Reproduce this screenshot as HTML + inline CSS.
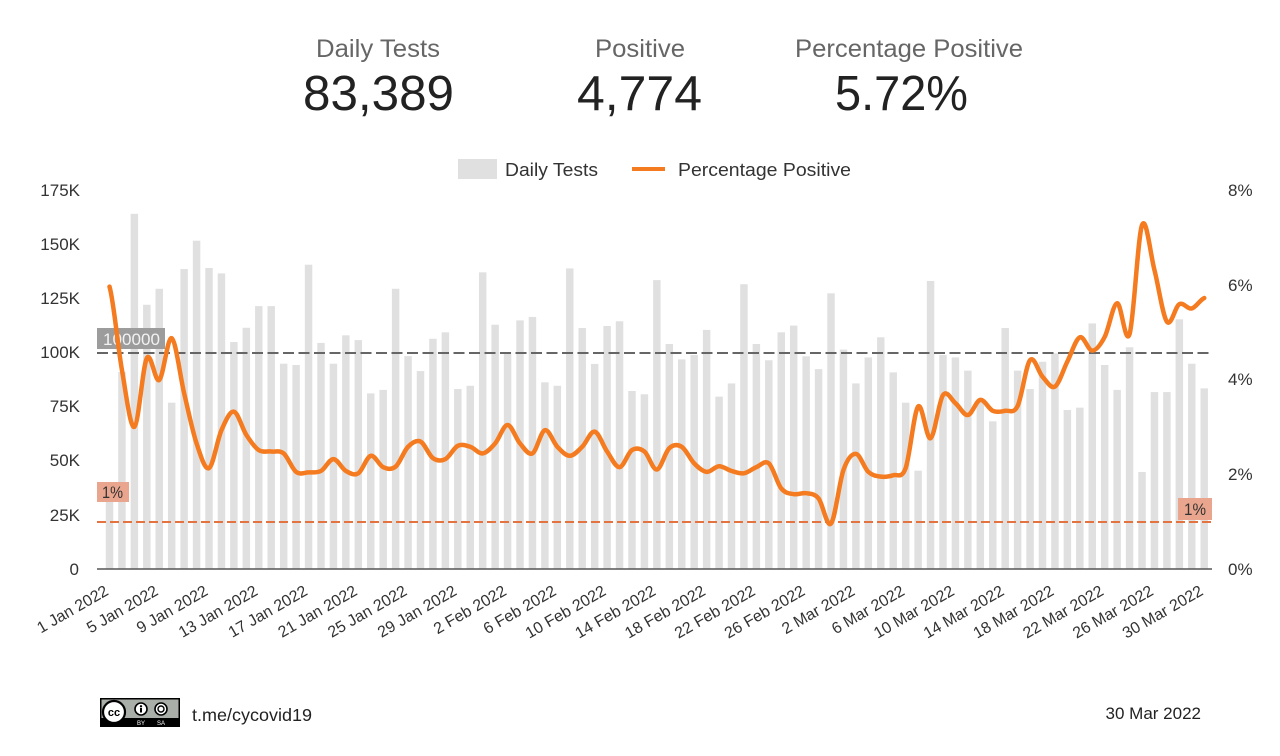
<!DOCTYPE html>
<html>
<head>
<meta charset="utf-8">
<style>
html,body{margin:0;padding:0;background:#fff;}
svg{display:block;font-family:"Liberation Sans",Arial,sans-serif;}
</style>
</head>
<body>
<svg width="1280" height="756" viewBox="0 0 1280 756" xmlns="http://www.w3.org/2000/svg">
<rect width="1280" height="756" fill="#fff"/>

<!-- Header scorecards -->
<g fill="#666" font-size="25">
<text x="316" y="57" textLength="124" lengthAdjust="spacingAndGlyphs">Daily Tests</text>
<text x="595" y="57" textLength="90" lengthAdjust="spacingAndGlyphs">Positive</text>
<text x="795" y="57" textLength="228" lengthAdjust="spacingAndGlyphs">Percentage Positive</text>
</g>
<g fill="#222" font-size="49">
<text x="303" y="110" textLength="151" lengthAdjust="spacingAndGlyphs">83,389</text>
<text x="577" y="110" textLength="125" lengthAdjust="spacingAndGlyphs">4,774</text>
<text x="835" y="110" textLength="133" lengthAdjust="spacingAndGlyphs">5.72%</text>
</g>

<!-- Legend -->
<rect x="458" y="159" width="39" height="20" fill="#e0e0e0"/>
<text x="505" y="176" font-size="18.5" fill="#333" textLength="93" lengthAdjust="spacingAndGlyphs">Daily Tests</text>
<line x1="632" y1="169" x2="665" y2="169" stroke="#f47b20" stroke-width="4"/>
<text x="678" y="176" font-size="18.5" fill="#333" textLength="173" lengthAdjust="spacingAndGlyphs">Percentage Positive</text>

<!-- Left axis labels -->
<g fill="#333" font-size="17" text-anchor="end">
<text x="80" y="196">175K</text>
<text x="80" y="250">150K</text>
<text x="80" y="304">125K</text>
<text x="80" y="358">100K</text>
<text x="80" y="412">75K</text>
<text x="80" y="466">50K</text>
<text x="80" y="521">25K</text>
<text x="79" y="575">0</text>
</g>
<!-- Right axis labels -->
<g fill="#333" font-size="17">
<text x="1228" y="196">8%</text>
<text x="1228" y="291">6%</text>
<text x="1228" y="385">4%</text>
<text x="1228" y="480">2%</text>
<text x="1228" y="575">0%</text>
</g>

<!-- Bars -->
<g transform="translate(109.5,569) scale(12.44,-2.1656)" fill="#e0e0e0">
<rect x="-0.3" width="0.6" height="35"/>
<rect x="0.7" width="0.6" height="91"/>
<rect x="1.7" width="0.6" height="164"/>
<rect x="2.7" width="0.6" height="122"/>
<rect x="3.7" width="0.6" height="129.4"/>
<rect x="4.7" width="0.6" height="76.8"/>
<rect x="5.7" width="0.6" height="138.5"/>
<rect x="6.7" width="0.6" height="151.6"/>
<rect x="7.7" width="0.6" height="139"/>
<rect x="8.7" width="0.6" height="136.5"/>
<rect x="9.7" width="0.6" height="104.8"/>
<rect x="10.7" width="0.6" height="111.4"/>
<rect x="11.7" width="0.6" height="121.4"/>
<rect x="12.7" width="0.6" height="121.4"/>
<rect x="13.7" width="0.6" height="94.8"/>
<rect x="14.7" width="0.6" height="94.2"/>
<rect x="15.7" width="0.6" height="140.5"/>
<rect x="16.7" width="0.6" height="104.4"/>
<rect x="17.7" width="0.6" height="94.8"/>
<rect x="18.7" width="0.6" height="107.9"/>
<rect x="19.7" width="0.6" height="105.7"/>
<rect x="20.7" width="0.6" height="81.1"/>
<rect x="21.7" width="0.6" height="82.7"/>
<rect x="22.7" width="0.6" height="129.4"/>
<rect x="23.7" width="0.6" height="98.3"/>
<rect x="24.7" width="0.6" height="91.4"/>
<rect x="25.7" width="0.6" height="106.3"/>
<rect x="26.7" width="0.6" height="109.3"/>
<rect x="27.7" width="0.6" height="83.1"/>
<rect x="28.7" width="0.6" height="84.6"/>
<rect x="29.7" width="0.6" height="137"/>
<rect x="30.7" width="0.6" height="112.8"/>
<rect x="31.7" width="0.6" height="100"/>
<rect x="32.7" width="0.6" height="114.8"/>
<rect x="33.7" width="0.6" height="116.4"/>
<rect x="34.7" width="0.6" height="86.2"/>
<rect x="35.7" width="0.6" height="84.6"/>
<rect x="36.7" width="0.6" height="138.8"/>
<rect x="37.7" width="0.6" height="111.3"/>
<rect x="38.7" width="0.6" height="94.7"/>
<rect x="39.7" width="0.6" height="112.2"/>
<rect x="40.7" width="0.6" height="114.4"/>
<rect x="41.7" width="0.6" height="82.2"/>
<rect x="42.7" width="0.6" height="80.7"/>
<rect x="43.7" width="0.6" height="133.4"/>
<rect x="44.7" width="0.6" height="103.9"/>
<rect x="45.7" width="0.6" height="96.8"/>
<rect x="46.7" width="0.6" height="98.8"/>
<rect x="47.7" width="0.6" height="110.4"/>
<rect x="48.7" width="0.6" height="79.6"/>
<rect x="49.7" width="0.6" height="85.7"/>
<rect x="50.7" width="0.6" height="131.5"/>
<rect x="51.7" width="0.6" height="103.9"/>
<rect x="52.7" width="0.6" height="96.4"/>
<rect x="53.7" width="0.6" height="109.3"/>
<rect x="54.7" width="0.6" height="112.4"/>
<rect x="55.7" width="0.6" height="98.2"/>
<rect x="56.7" width="0.6" height="92.3"/>
<rect x="57.7" width="0.6" height="127.3"/>
<rect x="58.7" width="0.6" height="101.3"/>
<rect x="59.7" width="0.6" height="85.7"/>
<rect x="60.7" width="0.6" height="97.7"/>
<rect x="61.7" width="0.6" height="107"/>
<rect x="62.7" width="0.6" height="90.8"/>
<rect x="63.7" width="0.6" height="76.8"/>
<rect x="64.7" width="0.6" height="45.4"/>
<rect x="65.7" width="0.6" height="133"/>
<rect x="66.7" width="0.6" height="98.8"/>
<rect x="67.7" width="0.6" height="97.7"/>
<rect x="68.7" width="0.6" height="91.6"/>
<rect x="69.7" width="0.6" height="78"/>
<rect x="70.7" width="0.6" height="68.2"/>
<rect x="71.7" width="0.6" height="111.3"/>
<rect x="72.7" width="0.6" height="91.6"/>
<rect x="73.7" width="0.6" height="83.1"/>
<rect x="74.7" width="0.6" height="95.7"/>
<rect x="75.7" width="0.6" height="99.6"/>
<rect x="76.7" width="0.6" height="73.4"/>
<rect x="77.7" width="0.6" height="74.5"/>
<rect x="78.7" width="0.6" height="113.4"/>
<rect x="79.7" width="0.6" height="94.2"/>
<rect x="80.7" width="0.6" height="82.7"/>
<rect x="81.7" width="0.6" height="102.4"/>
<rect x="82.7" width="0.6" height="44.8"/>
<rect x="83.7" width="0.6" height="81.7"/>
<rect x="84.7" width="0.6" height="81.7"/>
<rect x="85.7" width="0.6" height="115.3"/>
<rect x="86.7" width="0.6" height="94.8"/>
<rect x="87.7" width="0.6" height="83.4"/>
</g>

<!-- Axis baseline -->
<line x1="97" y1="569" x2="1212" y2="569" stroke="#555" stroke-width="1.5"/>

<!-- Reference lines -->
<line x1="97" y1="353" x2="1212" y2="353" stroke="#666" stroke-width="2" stroke-dasharray="11 4.5"/>
<line x1="97" y1="522" x2="1212" y2="522" stroke="#e4733f" stroke-width="2" stroke-dasharray="9 4"/>

<!-- Reference labels -->
<rect x="97" y="328" width="68" height="21" fill="#9c9c9c"/>
<text x="103" y="345" font-size="17" fill="#f2f2f2" textLength="57" lengthAdjust="spacingAndGlyphs">100000</text>
<rect x="97" y="482" width="32" height="20" fill="#e9a58d"/>
<text x="102" y="498" font-size="17" fill="#333" textLength="21" lengthAdjust="spacingAndGlyphs">1%</text>
<rect x="1178" y="498" width="34" height="22" fill="#e9a58d"/>
<text x="1184" y="515" font-size="17" fill="#333" textLength="22" lengthAdjust="spacingAndGlyphs">1%</text>

<!-- Percentage line -->
<g transform="translate(109.5,569) scale(12.44,-47.375)">
<path id="pp" fill="none" stroke="#f47b20" stroke-width="4.5" stroke-linejoin="round" stroke-linecap="round" vector-effect="non-scaling-stroke"
d="M0,5.96 L1,4.2 L2,3.0 L3,4.45 L4,3.99 L5,4.87 L6,3.71 L7,2.65 L8,2.13 L9,2.93 L10,3.32 L11,2.83 L12,2.51 L13,2.48 L14,2.44 L15,2.05 L16,2.04 L17,2.07 L18,2.32 L19,2.07 L20,2.02 L21,2.39 L22,2.15 L23,2.16 L24,2.58 L25,2.69 L26,2.34 L27,2.32 L28,2.6 L29,2.58 L30,2.44 L31,2.65 L32,3.04 L33,2.65 L34,2.44 L35,2.93 L36,2.58 L37,2.39 L38,2.58 L39,2.9 L40,2.48 L41,2.15 L42,2.51 L43,2.48 L44,2.1 L45,2.55 L46,2.58 L47,2.23 L48,2.05 L49,2.17 L50,2.07 L51,2.02 L52,2.15 L53,2.23 L54,1.7 L55,1.58 L56,1.6 L57,1.49 L58,0.96 L59,2.09 L60,2.43 L61,2.05 L62,1.95 L63,1.98 L64,2.13 L65,3.43 L66,2.76 L67,3.67 L68,3.5 L69,3.25 L70,3.57 L71,3.34 L72,3.34 L73,3.44 L74,4.41 L75,4.06 L76,3.85 L77,4.38 L78,4.89 L79,4.61 L80,4.9 L81,5.61 L82,4.96 L83,7.26 L84,6.31 L85,5.22 L86,5.59 L87,5.5 L88,5.72"/>
</g>

<!-- X axis labels -->
<g fill="#333" font-size="16" text-anchor="end">
<text transform="translate(109.5,594) rotate(-30)">1 Jan 2022</text>
<text transform="translate(159.26,594) rotate(-30)">5 Jan 2022</text>
<text transform="translate(209.02,594) rotate(-30)">9 Jan 2022</text>
<text transform="translate(258.78,594) rotate(-30)">13 Jan 2022</text>
<text transform="translate(308.54,594) rotate(-30)">17 Jan 2022</text>
<text transform="translate(358.3,594) rotate(-30)">21 Jan 2022</text>
<text transform="translate(408.06,594) rotate(-30)">25 Jan 2022</text>
<text transform="translate(457.82,594) rotate(-30)">29 Jan 2022</text>
<text transform="translate(507.58,594) rotate(-30)">2 Feb 2022</text>
<text transform="translate(557.34,594) rotate(-30)">6 Feb 2022</text>
<text transform="translate(607.1,594) rotate(-30)">10 Feb 2022</text>
<text transform="translate(656.86,594) rotate(-30)">14 Feb 2022</text>
<text transform="translate(706.62,594) rotate(-30)">18 Feb 2022</text>
<text transform="translate(756.38,594) rotate(-30)">22 Feb 2022</text>
<text transform="translate(806.14,594) rotate(-30)">26 Feb 2022</text>
<text transform="translate(855.9,594) rotate(-30)">2 Mar 2022</text>
<text transform="translate(905.66,594) rotate(-30)">6 Mar 2022</text>
<text transform="translate(955.42,594) rotate(-30)">10 Mar 2022</text>
<text transform="translate(1005.18,594) rotate(-30)">14 Mar 2022</text>
<text transform="translate(1054.94,594) rotate(-30)">18 Mar 2022</text>
<text transform="translate(1104.7,594) rotate(-30)">22 Mar 2022</text>
<text transform="translate(1154.46,594) rotate(-30)">26 Mar 2022</text>
<text transform="translate(1204.22,594) rotate(-30)">30 Mar 2022</text>
</g>

<!-- Footer: CC badge -->
<g>
<rect x="100" y="698" width="80" height="29" fill="#000"/>
<rect x="101.5" y="699.5" width="77" height="18.5" fill="#a9aea9"/>
<circle cx="114" cy="712" r="11" fill="#fff" stroke="#000" stroke-width="2.2"/>
<text x="114" y="716" font-size="11" font-weight="bold" fill="#000" text-anchor="middle">cc</text>
<circle cx="141" cy="709" r="6" fill="#fff" stroke="#000" stroke-width="1.6"/>
<circle cx="141" cy="706.3" r="1.2" fill="#000"/>
<rect x="140" y="708" width="2" height="4.5" fill="#000"/>
<circle cx="161" cy="709" r="6" fill="#fff" stroke="#000" stroke-width="1.6"/>
<circle cx="161" cy="709" r="3" fill="none" stroke="#000" stroke-width="1.4"/>
<text x="141" y="725" font-size="6" fill="#fff" text-anchor="middle">BY</text>
<text x="161" y="725" font-size="6" fill="#fff" text-anchor="middle">SA</text>
</g>
<text x="192" y="721" font-size="17.5" fill="#222" textLength="120" lengthAdjust="spacingAndGlyphs">t.me/cycovid19</text>
<text x="1201" y="719" font-size="17" fill="#222" text-anchor="end">30 Mar 2022</text>
</svg>
<script>
(function(){
var y=[5.96,4.2,3.0,4.45,3.99,4.87,3.71,2.65,2.13,2.93,3.32,2.83,2.51,2.48,2.44,2.05,2.04,2.07,2.32,2.07,2.02,2.39,2.15,2.16,2.58,2.69,2.34,2.32,2.6,2.58,2.44,2.65,3.04,2.65,2.44,2.93,2.58,2.39,2.58,2.9,2.48,2.15,2.51,2.48,2.1,2.55,2.58,2.23,2.05,2.17,2.07,2.02,2.15,2.23,1.7,1.58,1.6,1.49,0.96,2.09,2.43,2.05,1.95,1.98,2.13,3.43,2.76,3.67,3.5,3.25,3.57,3.34,3.34,3.44,4.41,4.06,3.85,4.38,4.89,4.61,4.9,5.61,4.96,7.26,6.31,5.22,5.59,5.5,5.72];
var n=y.length,d='M0,'+y[0];
for(var i=0;i<n-1;i++){
var y0=y[i>0?i-1:0],y1=y[i],y2=y[i+1],y3=y[i+2<n?i+2:i+1];
var c1=y1+(y2-y0)/6,c2=y2-(y3-y1)/6;
d+=' C'+(i+1/3).toFixed(3)+','+c1.toFixed(3)+' '+(i+2/3).toFixed(3)+','+c2.toFixed(3)+' '+(i+1)+','+y2;
}
var p=document.getElementById('pp');if(p)p.setAttribute('d',d);
})();
</script>
</body>
</html>
